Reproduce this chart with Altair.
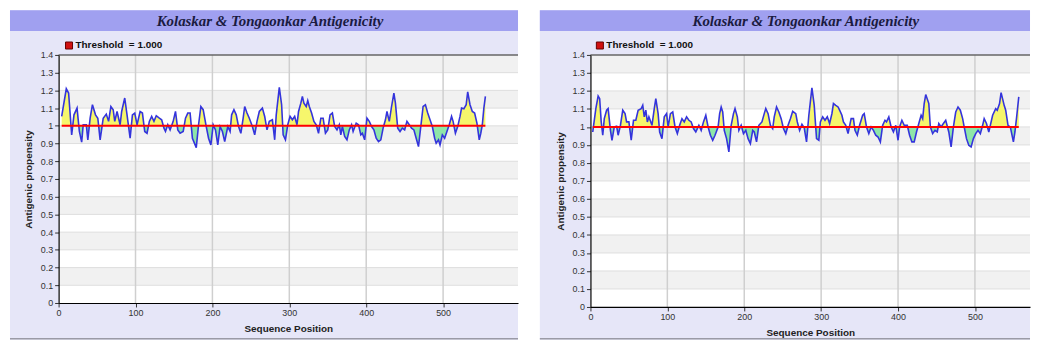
import altair as alt
import pandas as pd

# ---------------- data ----------------
TITLE = "Kolaskar & Tongaonkar Antigenicity"
LEGEND_LABEL = "Threshold\u00a0 = 1.000"
X_TITLE = "Sequence Position"
Y_TITLE = "Antigenic propensity"
THRESHOLD = 1.0

X_TICKS = [0, 100, 200, 300, 400, 500]
Y_TICKS = [0, 0.1, 0.2, 0.3, 0.4, 0.5, 0.6, 0.7, 0.8, 0.9, 1.0, 1.1, 1.2, 1.3, 1.4]
BAND_LO = [0.1, 0.3, 0.5, 0.7, 0.9, 1.1, 1.3]
BAND_HI = [0.2, 0.4, 0.6, 0.8, 1.0, 1.2, 1.4]
HGRID = [0.1, 0.2, 0.3, 0.4, 0.5, 0.6, 0.7, 0.8, 0.9, 1.0, 1.1, 1.2, 1.3]
VGRID = [100, 200, 300, 400, 500]

L_POS = [4, 10, 13, 17, 20, 24, 27, 30, 32, 36,
         38, 41, 44, 48, 51, 54, 58, 62, 65, 68,
         71, 73, 76, 80, 82, 86, 89, 93, 96, 99,
         102, 106, 109, 112, 115, 118, 121, 124, 127, 131,
         134, 137, 139, 142, 145, 149, 152, 155, 158, 162,
         165, 168, 171, 174, 179, 182, 185, 188, 192, 195,
         198, 201, 204, 207, 210, 213, 216, 220, 223, 225,
         228, 231, 234, 237, 240, 242, 245, 248, 252, 255,
         258, 261, 265, 268, 271, 274, 278, 281, 283, 287,
         290, 292, 295, 298, 301, 304, 307, 310, 312, 315,
         317, 319, 322, 324, 326, 329, 332, 335, 338, 341,
         344, 347, 350, 353, 356, 359, 362, 365, 367, 369,
         372, 375, 378, 381, 383, 387, 390, 393, 395, 398,
         401, 404, 407, 410, 413, 416, 419, 422, 425, 427,
         430, 433, 436, 438, 441, 444, 447, 450, 453, 456,
         459, 462, 465, 468, 471, 474, 477, 480, 483, 486,
         489, 491, 494, 496, 499, 502, 505, 508, 511, 513,
         516, 519, 522, 524, 527, 530, 532, 535, 538, 541,
         544, 547, 549, 551, 553, 555]
L_VAL = [1.053, 1.209, 1.185, 0.949, 1.062, 1.100, 0.968, 0.908, 1.006, 1.006,
         0.921, 1.043, 1.119, 1.062, 1.043, 0.921, 1.043, 1.066, 1.025, 1.109,
         1.091, 1.025, 1.081, 1.006, 1.081, 1.157, 1.062, 0.930, 1.062, 1.072,
         1.006, 1.081, 1.072, 0.968, 0.958, 1.025, 1.053, 1.025, 1.057, 1.043,
         1.034, 0.987, 0.968, 1.006, 0.977, 1.025, 1.081, 0.977, 0.958, 0.968,
         1.043, 1.072, 1.072, 0.930, 0.877, 1.006, 1.109, 1.091, 0.996, 0.930,
         0.892, 1.006, 0.977, 0.892, 0.996, 0.968, 0.911, 0.996, 0.968, 1.062,
         1.091, 1.062, 0.996, 0.958, 1.043, 1.109, 1.072, 1.043, 0.996, 0.949,
         1.025, 1.081, 1.100, 1.053, 0.977, 1.025, 1.034, 0.921, 1.062, 1.217,
         1.119, 0.949, 0.921, 1.006, 1.053, 1.034, 1.053, 1.006, 1.081, 1.128,
         1.166, 1.128, 1.109, 1.142, 1.109, 1.072, 1.025, 1.006, 0.958, 1.043,
         1.043, 0.958, 0.977, 1.062, 1.072, 0.996, 0.977, 1.006, 0.949, 0.996,
         0.940, 0.921, 0.977, 1.006, 0.968, 1.015, 1.006, 0.949, 0.958, 0.921,
         1.043, 1.025, 0.996, 0.977, 0.930, 0.911, 0.921, 0.987, 1.034, 1.081,
         1.025, 1.109, 1.185, 1.128, 0.987, 0.968, 0.987, 0.977, 1.025, 1.006,
         0.987, 0.977, 0.930, 0.883, 0.996, 1.109, 1.119, 1.072, 1.034, 0.996,
         0.930, 0.902, 0.921, 0.892, 0.949, 0.930, 0.968, 1.006, 1.053, 1.025,
         0.958, 0.996, 1.053, 1.100, 1.096, 1.119, 1.191, 1.119, 1.081, 1.072,
         1.015, 0.921, 0.958, 1.006, 1.100, 1.166]

R_POS = [3, 7, 10, 12, 14, 16, 18, 21, 23, 26,
         28, 31, 34, 36, 39, 42, 45, 47, 50, 53,
         56, 59, 62, 66, 68, 70, 72, 74, 76, 80,
         83, 85, 88, 90, 93, 96, 99, 101, 104, 107,
         110, 113, 116, 119, 122, 125, 128, 131, 134, 137,
         141, 144, 147, 150, 153, 156, 159, 162, 166, 168,
         170, 172, 174, 177, 180, 183, 186, 188, 191, 193,
         196, 199, 202, 205, 208, 211, 213, 216, 219, 223,
         226, 228, 231, 234, 237, 239, 242, 245, 248, 251,
         254, 257, 260, 263, 267, 269, 272, 275, 278, 281,
         284, 288, 291, 294, 297, 299, 302, 305, 308, 311,
         314, 316, 319, 322, 324, 327, 329, 332, 335, 339,
         342, 344, 347, 350, 354, 356, 359, 362, 365, 368,
         371, 374, 377, 380, 383, 385, 388, 391, 394, 397,
         400, 402, 405, 408, 412, 415, 418, 421, 424, 427,
         430, 432, 434, 436, 440, 442, 445, 448, 451, 453,
         456, 459, 462, 466, 469, 472, 475, 478, 481, 484,
         486, 489, 492, 495, 498, 501, 504, 507, 510, 512,
         515, 518, 520, 523, 527, 529, 532, 534, 538, 540,
         543, 546, 550, 552, 554, 557]
R_VAL = [0.972, 1.102, 1.172, 1.157, 1.028, 0.954, 1.046, 1.093, 1.102, 0.981,
         0.926, 1.000, 1.004, 0.954, 1.009, 1.093, 1.074, 1.028, 1.028, 0.926,
         1.037, 1.037, 1.093, 1.102, 1.120, 1.056, 1.093, 1.028, 1.056, 1.009,
         1.102, 1.157, 1.074, 0.972, 0.935, 1.056, 1.074, 1.000, 1.074, 1.083,
         1.000, 0.963, 1.009, 1.046, 1.028, 1.056, 1.037, 1.028, 0.991, 0.972,
         1.009, 0.981, 1.028, 1.065, 1.000, 0.954, 0.926, 0.954, 1.000, 1.074,
         1.111, 1.083, 0.981, 0.935, 0.861, 1.009, 1.074, 1.102, 1.056, 0.981,
         1.009, 0.963, 0.981, 0.935, 0.907, 0.981, 0.972, 0.917, 1.009, 1.028,
         1.074, 1.102, 1.074, 1.009, 0.991, 1.056, 1.111, 1.083, 1.046, 0.991,
         0.963, 1.009, 1.046, 1.087, 1.074, 1.028, 0.981, 1.015, 0.995, 0.917,
         1.065, 1.217, 1.120, 0.935, 0.926, 1.028, 1.056, 1.037, 1.056, 1.019,
         1.074, 1.130, 1.120, 1.111, 1.093, 1.065, 1.028, 1.009, 0.963, 1.046,
         1.046, 0.981, 0.954, 1.009, 1.065, 1.074, 1.000, 0.963, 1.000, 0.981,
         0.954, 0.944, 0.917, 1.009, 1.037, 1.028, 1.056, 1.000, 0.972, 1.009,
         0.926, 1.000, 1.037, 1.009, 1.009, 0.954, 0.917, 0.917, 0.972, 1.019,
         1.065, 1.046, 1.130, 1.180, 1.130, 1.000, 0.963, 0.981, 0.972, 1.019,
         1.000, 1.019, 1.037, 0.972, 0.889, 1.000, 1.083, 1.111, 1.093, 1.046,
         1.000, 0.935, 0.898, 0.889, 0.935, 0.963, 0.981, 0.963, 1.009, 1.046,
         1.019, 0.972, 1.009, 1.065, 1.102, 1.093, 1.130, 1.191, 1.120, 1.093,
         1.009, 1.000, 0.917, 0.972, 1.046, 1.167]

# ---------------- styles ----------------
FRAME = "#e6e6f8"
BAR = "#a0a0f0"
BAND = "#f1f1f1"
GRID_V = "#cfcfcf"
GRID_H = "#dedede"
YELLOW = "#f6f66c"
GREEN = "#8ee6a8"
BLUE = "#3434dc"
RED = "#ff0000"
SANS = "Liberation Sans"
SERIF = "Liberation Serif"


def split(xs, ys, t):
    """Insert the points where the line crosses the threshold."""
    px, py = [], []
    for i in range(len(xs)):
        if i > 0 and (ys[i - 1] - t) * (ys[i] - t) < 0:
            f = (t - ys[i - 1]) / (ys[i] - ys[i - 1])
            px.append(xs[i - 1] + f * (xs[i] - xs[i - 1]))
            py.append(t)
        px.append(xs[i])
        py.append(ys[i])
    return px, py


def panel(pos, val, W, H, xmax, fl, fr, title_cx, sq_x, txt_x):
    xs = alt.Scale(domain=[0, xmax], nice=False, zero=False)
    ys = alt.Scale(domain=[0, 1.4], nice=False)
    px, py = split(pos, val, THRESHOLD)
    df = pd.DataFrame({
        "pos": px, "val": py,
        "up": [max(v, THRESHOLD) for v in py],
        "lo": [min(v, THRESHOLD) for v in py],
        "t": [THRESHOLD] * len(px),
    })
    one = pd.DataFrame({"k": [0]})
    bands = pd.DataFrame({"lo": BAND_LO, "hi": BAND_HI})
    hg = pd.DataFrame({"g": HGRID})
    vg = pd.DataFrame({"g": VGRID})
    thr = pd.DataFrame({"x": [pos[0]], "x2": [pos[-1]], "t": [THRESHOLD]})

    xaxis = alt.Axis(values=X_TICKS, title=X_TITLE, grid=False, zindex=1,
                     labelFont=SANS, labelFontSize=9, labelColor="#333",
                     tickColor="#333", tickSize=4, labelPadding=2,
                     domainColor="#000", domainWidth=1.2,
                     titleFont=SANS, titleFontSize=10, titleFontWeight="bold",
                     titleColor="#222", titlePadding=6, labelFlush=False)
    yaxis = alt.Axis(values=Y_TICKS, format=".1~f", title=Y_TITLE, grid=False,
                     zindex=1, labelFont=SANS, labelFontSize=9, labelColor="#333",
                     tickColor="#333", tickSize=4, labelPadding=2,
                     domainColor="#000", domainWidth=1.2,
                     titleFont=SANS, titleFontSize=10, titleFontWeight="bold",
                     titleColor="#222", titlePadding=7)

    def X(f):
        return alt.X(f, type="quantitative", scale=xs, axis=xaxis)

    def Y(f):
        return alt.Y(f, type="quantitative", scale=ys, axis=yaxis)

    frame = alt.Chart(one).mark_rect(color=FRAME).encode(
        x=alt.value(fl), x2=alt.value(fr), y=alt.value(-45), y2=alt.value(287))
    bar = alt.Chart(one).mark_rect(color=BAR).encode(
        x=alt.value(fl), x2=alt.value(fr), y=alt.value(-45), y2=alt.value(-24))
    bottom = alt.Chart(one).mark_rule(color="#9a9aa6", strokeWidth=1.5).encode(
        x=alt.value(fl), x2=alt.value(fr), y=alt.value(286))
    plotbg = alt.Chart(one).mark_rect(color="white").encode(
        x=alt.value(0), x2=alt.value(W), y=alt.value(0), y2=alt.value(H))
    band = alt.Chart(bands).mark_rect(color=BAND).encode(
        x=alt.value(0), x2=alt.value(W), y=Y("lo"), y2="hi:Q")
    hgrid = alt.Chart(hg).mark_rule(color=GRID_H, strokeWidth=1).encode(
        x=alt.value(0), x2=alt.value(W), y=Y("g"))
    vgrid = alt.Chart(vg).mark_rule(color=GRID_V, strokeWidth=1.5).encode(
        x=X("g"), y=alt.value(0), y2=alt.value(H))
    up = alt.Chart(df).mark_area(color=YELLOW, opacity=1).encode(
        x=X("pos"), y=Y("up"), y2="t:Q")
    lo = alt.Chart(df).mark_area(color=GREEN, opacity=1).encode(
        x=X("pos"), y=Y("lo"), y2="t:Q")
    line = alt.Chart(df).mark_line(color=BLUE, strokeWidth=1.6).encode(
        x=X("pos"), y=Y("val"))
    rule = alt.Chart(thr).mark_rule(color=RED, strokeWidth=2).encode(
        x=X("x"), x2="x2:Q", y=Y("t"))
    top = alt.Chart(one).mark_rule(color="#666", strokeWidth=1.5).encode(
        x=alt.value(0), x2=alt.value(W), y=alt.value(0))
    sq = alt.Chart(one).mark_square(size=50, color="#d01010", stroke="#600",
                                    strokeWidth=1, opacity=1, filled=True).encode(
        x=alt.value(sq_x), y=alt.value(-9.5))
    leg = alt.Chart(one).mark_text(align="left", baseline="middle", font=SANS,
                                   fontSize=10, fontWeight="bold", color="#111",
                                   text=LEGEND_LABEL).encode(
        x=alt.value(txt_x), y=alt.value(-9.5))
    ttl = alt.Chart(one).mark_text(align="center", baseline="middle", font=SERIF,
                                   fontSize=15, fontWeight="bold", fontStyle="italic",
                                   color="#1a1a40", text=TITLE).encode(
        x=alt.value(title_cx), y=alt.value(-34.5))

    return alt.layer(frame, bar, bottom, plotbg, band, hgrid, vgrid, up, lo,
                     line, rule, top, sq, leg, ttl).properties(width=W, height=H)


left = panel(L_POS, L_VAL, 463, 250, 463 / 0.775, -49, 463, 213, 10.5, 17)
right = panel(R_POS, R_VAL, 443, 254, 443 / 0.775, -51, 443, 217, 9.5, 16)

chart = alt.hconcat(left, right, spacing=18).properties(
    padding=0, background="white").configure_view(stroke="transparent")

chart.save("out.html", embed_options={"renderer": "svg", "actions": False})
